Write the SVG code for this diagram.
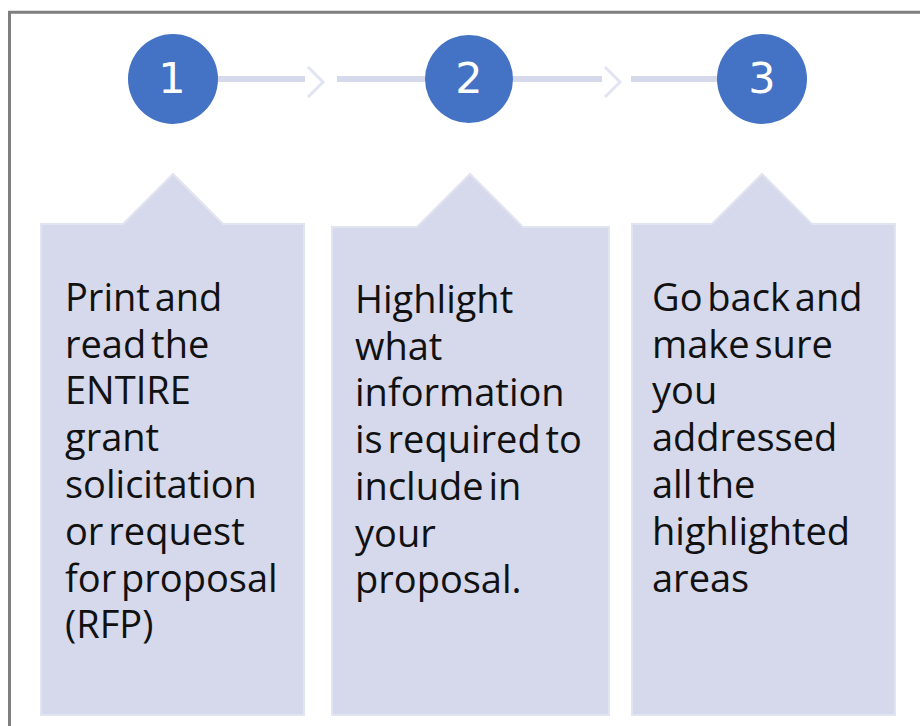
<svg xmlns="http://www.w3.org/2000/svg" width="920" height="726" viewBox="0 0 920 726">
<style>
.frame{fill:none;stroke:#7f7f7f;stroke-width:3}
.step{fill:#4472c4}
.num{font-family:"DejaVu Sans",sans-serif;font-size:43px;fill:#ffffff;text-anchor:middle}
.box{fill:#d5d9eb;stroke:#e1e4f1;stroke-width:2}
.txt{font-family:"Open Sans",sans-serif;font-size:38px;fill:#111111;word-spacing:-5px}
.line{stroke:#d5d9eb;stroke-width:6;fill:none}
.chev{stroke:#e1e5f3;stroke-width:3;fill:none}
</style>
<rect width="920" height="726" fill="#ffffff"/>
<path class="frame" d="M9.5,726 V12.3 H920"/>
<g id="connectors">
<line class="line" x1="216" y1="79" x2="305" y2="79"/>
<polyline class="chev" points="308,67 323,82 308,97"/>
<line class="line" x1="337" y1="79" x2="427" y2="79"/>
<line class="line" x1="511" y1="79" x2="602" y2="79"/>
<polyline class="chev" points="605,67 620,82 605,97"/>
<line class="line" x1="631" y1="79" x2="720" y2="79"/>
</g>
<g id="step1">
<circle class="step" cx="173" cy="79" r="45"/>
<text class="num" x="172" y="93">1</text>
</g>
<g id="step2">
<circle class="step" cx="469" cy="79" r="44"/>
<text class="num" x="469" y="93">2</text>
</g>
<g id="step3">
<circle class="step" cx="762" cy="79" r="45"/>
<text class="num" x="762" y="93">3</text>
</g>
<g id="box1">
<path class="box" d="M41,224 H123 L173,174 L223,224 H304 V715 H41 Z"/>
<text class="txt" x="65" y="311">Print and</text>
<text class="txt" x="65" y="358">read the</text>
<text class="txt" x="65" y="404">ENTIRE</text>
<text class="txt" x="65" y="451">grant</text>
<text class="txt" x="65" y="498">solicitation</text>
<text class="txt" x="65" y="545">or request</text>
<text class="txt" x="65" y="592">for proposal</text>
<text class="txt" x="65" y="638">(RFP)</text>
</g>
<g id="box2">
<path class="box" d="M332,227 H417 L470,174 L523,227 H609 V715 H332 Z"/>
<text class="txt" x="355" y="313">Highlight</text>
<text class="txt" x="355" y="360">what</text>
<text class="txt" x="355" y="406">information</text>
<text class="txt" x="355" y="453">is required to</text>
<text class="txt" x="355" y="500">include in</text>
<text class="txt" x="355" y="547">your</text>
<text class="txt" x="355" y="593">proposal.</text>
</g>
<g id="box3">
<path class="box" d="M632,224 H712 L762,174 L812,224 H895 V715 H632 Z"/>
<text class="txt" x="652" y="311">Go back and</text>
<text class="txt" x="652" y="358">make sure</text>
<text class="txt" x="652" y="404">you</text>
<text class="txt" x="652" y="451">addressed</text>
<text class="txt" x="652" y="498">all the</text>
<text class="txt" x="652" y="545">highlighted</text>
<text class="txt" x="652" y="592">areas</text>
</g>
</svg>
